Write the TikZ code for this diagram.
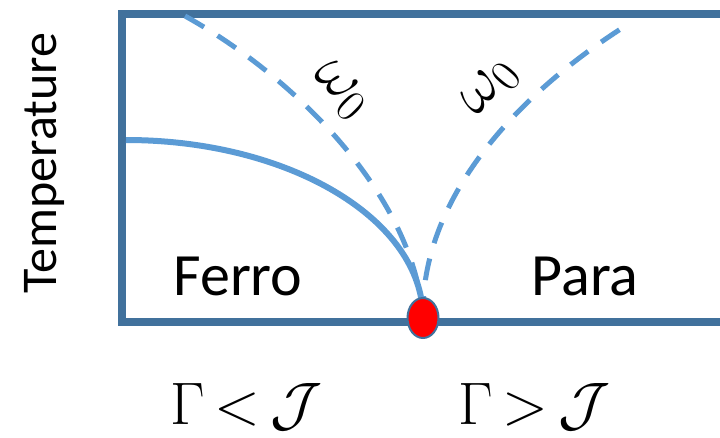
\RequirePackage{fix-cm}
\documentclass[tikz,border=0pt]{standalone}
\usepackage{amsmath,amssymb}
\usepackage{fontspec}
\setmainfont{Carlito}
\usetikzlibrary{positioning, shapes.geometric, calc}
\definecolor{frameblue}{HTML}{41719C}
\definecolor{lineblue}{HTML}{5B9BD5}

\begin{document}
\begin{tikzpicture}[
  x=1pt, y=-1pt,
  frame/.style={draw=frameblue, line width=8pt},
  phase/.style={draw=lineblue, line width=6pt},
  crossover/.style={draw=lineblue, line width=5pt, dash pattern=on 22pt off 16pt},
  region/.style={font=\fontsize{60}{66}\selectfont, inner sep=0pt, anchor=base},
  mode/.style={font=\fontsize{64}{70}\selectfont, inner sep=0pt},
  regime/.style={font=\fontsize{60}{66}\selectfont, inner sep=0pt, anchor=base}
]
\useasboundingbox (0,0) rectangle (720,437);

% frame, open on the right
\draw[frame] (720,14) -- (122,14) -- (122,322) -- (720,322);

\coordinate (qcp)   at (423,318);
\coordinate (tc)    at (126,140);
\coordinate (wleft) at (185,16);
\coordinate (wright) at (630,23);

% phase boundary and crossover lines
\draw[phase] (tc) .. controls (290,140) and (423,220) .. (qcp);
\draw[crossover] (wleft) .. controls (300,80) and (415,200) .. (qcp);
\draw[crossover] (qcp) .. controls (420,200) and (515,95) .. (wright);

\node[ellipse, draw=frameblue, line width=2pt, fill=red, minimum width=31pt,
      minimum height=40pt, inner sep=0pt] (crit) at (qcp) {};

\node[region] (ferro) at (238,295) {Ferro};
\node[region] (para)  at (585,295) {Para};

\node[mode, rotate=-45] (w1) at (340,90) {$\omega_0$};
\node[mode, rotate=50]  (w2) at (490,88) {$\omega_0$};

\node[rotate=90, font=\fontsize{50}{56}\selectfont, inner sep=0pt] (temp) at (44,163) {Temperature};

\node[regime] (lo) at (246,424) {$\thickmuskip=3mu \Gamma < \mathcal{J}$};
\node[regime] (hi) at (534,424) {$\thickmuskip=3mu \Gamma > \mathcal{J}$};
\end{tikzpicture}
\end{document}
